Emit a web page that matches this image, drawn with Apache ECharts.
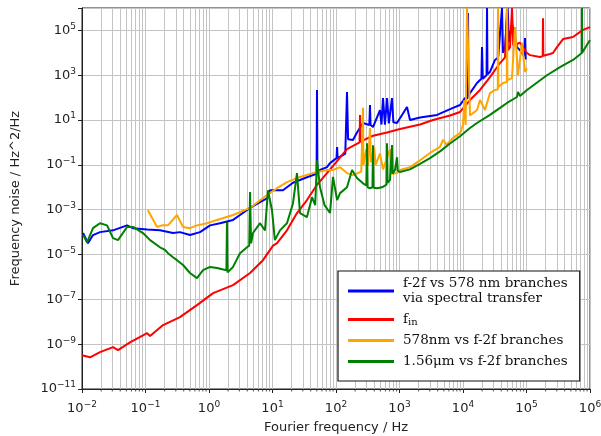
<!DOCTYPE html>
<html><head><meta charset="utf-8">
<script src="https://cdn.jsdelivr.net/npm/echarts@6/dist/echarts.min.js"></script>
<style>html,body{margin:0;padding:0;background:#fff;overflow:hidden}#c{width:601px;height:436px}</style>
</head><body><div id="c"></div>
<script>
// ---- data (Fourier frequency [Hz], frequency noise [Hz^2/Hz]) ----
const seriesNames = ['f-2f vs 578 nm branches via spectral transfer', 'fin', '578nm vs f-2f branches', '1.56μm vs f-2f branches'];
const seriesColors = ['#0000ff', '#ff0000', '#ffa500', '#008000'];

const blueData = [
 [0.0104,9.1e-5],[0.0124,3.2e-5],[0.0149,7.4e-5],[0.0192,1.0e-4],[0.0308,1.2e-4],[0.0512,2.0e-4],[0.0636,1.5e-4],
 [0.106,1.3e-4],[0.169,1.2e-4],[0.271,9.1e-5],[0.349,1.0e-4],[0.502,7.4e-5],[0.722,1.0e-4],[1.04,2.0e-4],[1.49,2.5e-4],
 [2.39,3.5e-4],[3.08,5.8e-4],[4.43,1.2e-3],[6.36,2.2e-3],[8.19,3.2e-3],[9.14,7.4e-3],[14.6,7.4e-3],[21.0,1.6e-2],
 [34.9,2.8e-2],[49.5,4.0e-2],[50.2,220],[51.0,4.0e-2],[56.0,5.9e-2],[72.1,7.9e-2],[80.5,0.12],[102,0.2],[104,0.63],
 [106,0.2],[140,0.32],[149,180],[155,1.4],[166,1.6],[185,1.3],[214,2.8],[266,7.4],[335,6],[343,47],[350,6],[383,4.9],
 [493,28],[520,6.3],[550,95],[590,6.3],[636,95],[680,7.1],[762,95],[800,7.9],[914,7.4],[1313,38],[1463,10],[2104,13],
 [3900,17],[6960,35],[8980,47],[10750,95],[11800,95],[12000,6e5],[12200,120],[12890,160],[16600,450],[19500,700],
 [19920,1.8e4],[20500,700],[23500,1000],[23900,1e6],[24300,1100],[26600,1400],[31900,4800],[35300,6000],[35600,1e6],
 [36000,7000],[38300,7900],[41100,1e6],[42700,1.0e4],[45900,1.8e4],[50500,1e6],[53000,3e4],[59100,2e5],[70800,1.8e4],
 [79000,1.3e4],[92000,7000],[94700,4.6e4],[97000,5000],[98200,4800]
];
const redData = [
 [0.01,3.2e-10],[0.0134,2.6e-10],[0.0192,4.4e-10],[0.0308,7.4e-10],[0.0369,5.4e-10],[0.057,1.2e-9],[0.106,3.1e-9],
 [0.118,2.3e-9],[0.189,7.1e-9],[0.349,1.6e-8],[0.647,5.5e-8],[1.16,1.9e-7],[2.39,4.3e-7],[4.43,1.5e-6],[7.08,5.6e-6],
 [10.2,2.5e-5],[11.8,3.2e-5],[16.9,1.2e-4],[24.3,7.1e-4],[34.9,2.7e-3],[50.2,1.3e-2],[72.1,4.3e-2],[100,0.13],[149,0.5],
 [235,1.0],[239,17],[243,1.1],[383,2.0],[636,2.8],[1019,4.0],[2104,6.3],[3370,10],[6240,16],[8980,23],[12890,78],
 [18530,220],[26600,830],[38300,3500],[45900,6300],[49300,1e6],[51200,1.3e4],[55000,1.8e4],[59100,1e6],[62000,2.2e4],
 [79000,2.8e4],[94700,1.3e4],[101800,9800],[113500,7900],[163000,6500],[180000,7100],[182000,3.5e5],[184000,7400],
 [234000,8900],[261000,9800],[302000,1.8e4],[376000,4.1e4],[540000,5.1e4],[776000,1.05e5],[1e6,1.4e5]
];
const orangeData = [
 [0.109,9.5e-4],[0.152,1.7e-4],[0.182,2.0e-4],[0.226,2.0e-4],[0.313,5.8e-4],[0.39,1.7e-4],[0.502,1.5e-4],[0.647,2.0e-4],
 [0.931,2.5e-4],[1.34,3.5e-4],[2.39,5.8e-4],[4.43,1.2e-3],[8.19,4.5e-3],[11.8,9.1e-3],[16.9,1.7e-2],[27.1,2.9e-2],
 [43.4,4.3e-2],[72.1,5.9e-2],[89.7,5.9e-2],[116,7.9e-2],[149,4.3e-2],[185,3.5e-2],[250,5.0e-2],[262,5.0e-2],[266,35],
 [270,0.1],[300,0.5],[320,0.1],[343,4.4],[355,0.13],[400,0.63],[420,0.1],[493,0.32],[550,6.3e-2],[708,0.5],[762,4.0e-2],
 [914,4.3e-2],[1019,5.9e-2],[1463,7.9e-2],[2104,0.16],[3023,0.34],[4345,0.63],[4845,1.3],[5500,0.8],[6960,1.6],
 [8980,2.6],[10000,6.0],[10500,78],[11000,6.0],[11570,1e6],[12000,1e6],[12890,16],[16600,28],[18530,78],[22200,28],
 [26600,160],[31900,220],[35300,230],[35600,1e6],[36000,300],[42700,450],[49000,500],[49300,1e6],[50000,600],
 [59100,740],[65900,1.4e5],[73500,1000],[84900,2.8e4],[94700,1400],[101800,2000]
];
const greenData = [
 [0.0104,7.4e-5],[0.012,3.5e-5],[0.0149,1.5e-4],[0.0192,2.5e-4],[0.0248,2.0e-4],[0.0308,5.4e-5],[0.0369,4.4e-5],
 [0.0512,1.7e-4],[0.0636,1.7e-4],[0.0914,9.1e-5],[0.118,4.4e-5],[0.169,2.1e-5],[0.203,1.6e-5],[0.226,1.15e-5],
 [0.271,7.6e-6],[0.313,5.6e-6],[0.39,3.4e-6],[0.502,1.5e-6],[0.647,8.9e-7],[0.805,2.0e-6],[1.04,2.8e-6],[1.34,2.5e-6],
 [1.88,2.0e-6],[1.92,2.8e-4],[1.96,1.6e-6],[2.39,2.8e-6],[3.08,1.15e-5],[3.97,2.1e-5],[4.3,2.5e-5],[4.43,6.2e-3],
 [4.6,3.2e-5],[4.93,9.1e-5],[6.36,2.5e-4],[7.62,1.2e-4],[8.49,7.4e-3],[9.82,9.5e-4],[10.9,4.4e-5],[13.1,1.2e-4],
 [16.9,2.5e-4],[21.0,1.9e-3],[24.3,4.3e-2],[27.1,7.1e-4],[34.9,4.7e-4],[41.9,3.6e-3],[47,1.6e-3],[50.2,0.16],
 [56,1.0e-2],[66,1.6e-3],[80.5,7.1e-4],[89.7,2.9e-2],[104,2.7e-3],[116,5.5e-3],[149,1.0e-2],[179,5.9e-2],[214,2.6e-2],
 [266,1.5e-2],[300,1.2e-2],[308,0.93],[315,1.0e-2],[343,9.1e-3],[375,1.0e-2],[383,0.76],[390,9.5e-3],[442,9.1e-3],
 [530,1.0e-2],[625,1.3e-2],[636,0.93],[650,1.6e-2],[708,2.1e-2],[762,0.76],[780,4.0e-2],[849,5.9e-2],[914,0.22],
 [940,5.5e-2],[1019,4.8e-2],[1463,6.3e-2],[2104,0.11],[3023,0.2],[4345,0.4],[6240,0.9],[8980,1.9],[12890,4.4],
 [16600,7.4],[26600,17],[38300,35],[49300,58],[70800,107],[73500,180],[79000,117],[101800,220],[210000,1000],
 [337000,2300],[540000,4800],[745000,9800],[748000,1e6],[752000,1.0e4],[1e6,3.7e4]
];

const xTickPowers = [-2, -1, 0, 1, 2, 3, 4, 5, 6];
const yTickPowers = [-11, -9, -7, -5, -3, -1, 1, 3, 5];
const xAxisTitle = 'Fourier frequency / Hz';
const yAxisTitle = 'Frequency noise / Hz^2/Hz';

// ---- chart ----
const minorXs = [];
for (let k = -2; k < 6; k++) for (let m = 2; m <= 9; m++) minorXs.push(m * Math.pow(10, k));

function powLabel(list) {
  return function (v) {
    const p = Math.round(Math.log10(v));
    if (list.indexOf(p) < 0) return '';
    return '{b|10}{s|' + (p < 0 ? '\u2212' + (-p) : p) + '}';
  };
}
const labelRich = {
  b: { fontFamily: 'DejaVu Sans', fontSize: 13, color: '#222', lineHeight: 17 },
  s: { fontFamily: 'DejaVu Sans', fontSize: 9, color: '#222', lineHeight: 10, verticalAlign: 'top' }
};
const legendText = {
  'f-2f vs 578 nm branches via spectral transfer': 'f-2f vs 578 nm branches\nvia spectral transfer',
  'fin': '{f|f}{sub|in}',
  '578nm vs f-2f branches': '578nm vs f-2f branches',
  '1.56μm vs f-2f branches': '1.56μm vs f-2f branches'
};
const dataSets = [blueData, redData, orangeData, greenData];
const series = seriesNames.map((n, i) => ({
  name: n, type: 'line', data: dataSets[i], showSymbol: false, symbol: 'none',
  lineStyle: { color: seriesColors[i], width: 2 }, itemStyle: { color: seriesColors[i] },
  z: 3 + i, animation: false, clip: true
}));
// minor grid lines (2..9 x 10^k) drawn through the x scale
series.push({
  name: 'minorgrid', type: 'line', data: [], z: 1, silent: true, animation: false,
  markLine: { silent: true, z: 1, symbol: ['none', 'none'], label: { show: false }, animation: false,
    lineStyle: { color: '#c4c4c4', width: 1, type: 'solid' },
    data: minorXs.map(v => ({ xAxis: v })) }
});
// minor tick marks below the x axis
series.push({
  name: 'minorticks', type: 'custom', silent: true, animation: false, clip: false, z: 2,
  data: minorXs.map(v => [v]),
  encode: { x: 0 },
  renderItem: function (params, api) {
    const p = api.coord([api.value(0), 1e-11]);
    return { type: 'line', shape: { x1: p[0], y1: p[1], x2: p[0], y2: p[1] + 2.5 },
      style: { stroke: '#222', lineWidth: 0.8 } };
  }
});

const chart = echarts.init(document.getElementById('c'), null, { renderer: 'canvas' });
chart.setOption({
  animation: false,
  backgroundColor: '#fff',
  grid: { left: 82, right: 11, top: 8, bottom: 47, show: true, borderColor: '#222', borderWidth: 1,
    containLabel: false, outerBoundsMode: 'none' },
  xAxis: {
    type: 'log', logBase: 10, min: 0.01, max: 1e6, interval: 1,
    name: xAxisTitle, nameLocation: 'middle', nameGap: 32,
    nameTextStyle: { fontFamily: 'DejaVu Sans', fontSize: 13, color: '#222' },
    axisLine: { show: true, lineStyle: { color: '#222', width: 1 } },
    axisTick: { show: true, inside: false, length: 4, lineStyle: { color: '#222' } },
    axisLabel: { formatter: powLabel(xTickPowers), rich: labelRich, margin: 11 },
    splitLine: { show: true, lineStyle: { color: '#c4c4c4', width: 1 } }
  },
  yAxis: {
    type: 'log', logBase: 10, min: 1e-11, max: 1e6, interval: 2,
    name: yAxisTitle, nameLocation: 'middle', nameGap: 60, nameRotate: 90,
    nameTextStyle: { fontFamily: 'DejaVu Sans', fontSize: 13, color: '#222' },
    axisLine: { show: true, lineStyle: { color: '#222', width: 1 } },
    axisTick: { show: true, inside: false, length: 4, lineStyle: { color: '#222' } },
    axisLabel: { formatter: powLabel(yTickPowers), rich: labelRich, margin: 6 },
    splitLine: { show: true, lineStyle: { color: '#c4c4c4', width: 1 } }
  },
  legend: {
    data: seriesNames, orient: 'vertical', left: 338, top: 271,
    backgroundColor: '#fff', borderColor: '#111', borderWidth: 1.2, borderRadius: 0,
    padding: [5, 12, 12, 10], itemGap: 6, itemWidth: 46, itemHeight: 3, icon: 'rect',
    formatter: n => legendText[n],
    textStyle: { fontFamily: 'DejaVu Serif', fontSize: 13.5, lineHeight: 15, color: '#111', padding: [0, 0, 0, 4],
      rich: {
        f: { fontFamily: 'DejaVu Serif', fontSize: 13.5, lineHeight: 15, color: '#111' },
        sub: { fontFamily: 'DejaVu Serif', fontSize: 10, lineHeight: 9, color: '#111', verticalAlign: 'bottom' }
      } }
  },
  series: series
});
</script></body></html>
